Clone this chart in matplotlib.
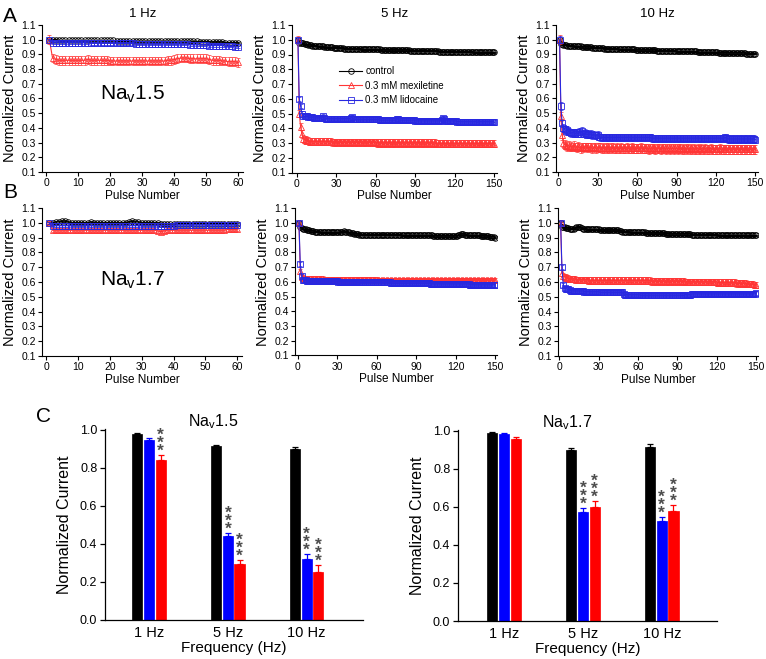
import numpy as np
import matplotlib
matplotlib.use("Agg")
import matplotlib.pyplot as plt

plt.rcParams['font.family'] = ['Liberation Sans', 'DejaVu Sans']
plt.rcParams['mathtext.fontset'] = 'custom'
plt.rcParams['mathtext.rm'] = 'Liberation Sans'

# ---------------- data (normalized current x 100) ----------------
# Nav1.5, 1 Hz (60 pulses)
ctrl_15_1hz = [
    100, 100, 100, 99.5, 99.5, 99.5, 99.5, 99.5, 99.5, 99.5,
    99.5, 99.5, 99.5, 99.5, 99.5, 99.5, 99.5, 99.5, 99.5, 99.5,
    99.5, 99, 99, 99, 99, 99, 99, 99, 99, 99,
    99, 99, 99, 99, 99, 99, 99, 99, 99, 99,
    99, 99, 99, 99, 99, 99, 99, 98.5, 98.5, 98.5,
    98.5, 98.5, 98.5, 98.5, 98.5, 98, 98, 98, 98, 98]
mex_15_1hz = [
    100, 87.5, 86.5, 86, 86, 86, 86, 86, 86, 86,
    86, 86, 86.5, 86, 86, 86, 86, 86, 86, 85.5,
    85.5, 85.5, 85.5, 85.5, 85.5, 85.5, 85.5, 85.5, 85.5, 85.5,
    85.5, 85.5, 85.5, 85.5, 85.5, 85.5, 85.5, 86, 86, 86.5,
    87, 87.5, 87.5, 87.5, 87, 87, 87, 87, 87, 87,
    86.5, 86, 86, 86, 85.5, 85.5, 85, 85, 85, 84.5]
lido_15_1hz = [
    100, 98, 98, 98, 98, 98, 98, 98, 98, 98,
    98, 98, 98, 97.5, 97.5, 97.5, 97.5, 97.5, 97.5, 97.5,
    97.5, 97.5, 97.5, 97.5, 97.5, 97.5, 97.5, 97, 97, 97,
    97, 97, 97, 97, 97, 97, 97, 97, 97, 97,
    97, 97, 97, 97, 96.5, 96.5, 96.5, 96.5, 96.5, 96.5,
    96, 96, 96, 96, 96, 95.5, 95.5, 95.5, 95, 95]

# Nav1.5, 5 Hz (150 pulses)
ctrl_15_5hz = [
    100, 98, 98, 97.5, 97.5, 97, 97, 97, 96.5, 96.5,
    96.5, 96, 96, 96, 96, 95.5, 95.5, 95.5, 95.5, 95.5,
    95, 95, 95, 95, 95, 95, 95, 94.5, 94.5, 94.5,
    94.5, 94.5, 94.5, 94.5, 94.5, 94, 94, 94, 94, 94,
    94, 94, 94, 94, 94, 94, 94, 94, 93.5, 93.5,
    93.5, 93.5, 93.5, 93.5, 93.5, 93.5, 93.5, 93.5, 93.5, 93.5,
    93.5, 93.5, 93.5, 93, 93, 93, 93, 93, 93, 93,
    93, 93, 93, 93, 93, 93, 93, 93, 93, 93,
    93, 93, 93, 93, 93, 92.5, 92.5, 92.5, 92.5, 92.5,
    92.5, 92.5, 92.5, 92.5, 92.5, 92.5, 92.5, 92.5, 92.5, 92.5,
    92.5, 92.5, 92.5, 92.5, 92.5, 92.5, 92.5, 92, 92, 92,
    92, 92, 92, 92, 92, 92, 92, 92, 92, 92,
    92, 92, 92, 92, 92, 92, 92, 92, 92, 92,
    92, 92, 92, 91.5, 91.5, 91.5, 91.5, 91.5, 91.5, 91.5,
    91.5, 91.5, 91.5, 91.5, 91.5, 91.5, 91.5, 91.5, 91.5, 91.5]
mex_15_5hz = [
    100, 50, 41, 36, 33, 32, 32, 31.5, 31.5, 31,
    31, 31, 31, 31, 31, 31, 31, 31, 31, 31,
    31, 31, 31, 31, 31, 31, 30.5, 30.5, 30.5, 30.5,
    30.5, 30.5, 30.5, 30.5, 30.5, 30.5, 30.5, 30.5, 30.5, 30.5,
    30.5, 30.5, 30.5, 30.5, 30.5, 30.5, 30.5, 30.5, 30.5, 30.5,
    30.5, 30.5, 30.5, 30.5, 30.5, 30.5, 30.5, 30.5, 30.5, 30.5,
    30, 30, 30, 30, 30, 30, 30, 30, 30, 30,
    30, 30, 30, 30, 30, 30, 30, 30, 30, 30,
    30, 30, 30, 30, 30, 30, 30, 30, 30, 30,
    30, 30, 30, 30, 30, 30, 30, 30, 30, 30,
    30, 30, 30, 30, 30, 29.5, 29.5, 29.5, 29.5, 29.5,
    29.5, 29.5, 29.5, 29.5, 29.5, 29.5, 29.5, 29.5, 29.5, 29.5,
    29.5, 29.5, 29.5, 29.5, 29.5, 29.5, 29.5, 29.5, 29.5, 29.5,
    29.5, 29.5, 29.5, 29.5, 29.5, 29.5, 29.5, 29.5, 29.5, 29.5,
    29.5, 29.5, 29.5, 29.5, 29.5, 29.5, 29.5, 29.5, 29.5, 29.5]
lido_15_5hz = [
    100, 60, 55, 50, 48.5, 48, 48, 48, 47.5, 47.5,
    47.5, 47.5, 47, 47, 47, 47, 47, 47, 47, 48,
    47, 46.5, 46.5, 46.5, 46.5, 46.5, 46.5, 46.5, 46.5, 46.5,
    46.5, 46.5, 46.5, 46.5, 46.5, 46.5, 46.5, 46.5, 46.5, 46.5,
    47, 47.5, 46.5, 46, 46, 46, 46, 46, 46, 46,
    46, 46, 46, 46, 46, 46, 46, 46, 46, 46,
    46, 46, 45.5, 45.5, 45.5, 45.5, 45.5, 45.5, 45.5, 45.5,
    45.5, 45.5, 45.5, 45.5, 45.5, 46, 46.5, 45.5, 45.5, 45.5,
    45.5, 45.5, 45.5, 45.5, 45.5, 45.5, 45.5, 45.5, 45.5, 45,
    45, 45, 45, 45, 45, 45, 45, 45, 45, 45,
    45, 45, 45, 45, 45, 45, 45, 45, 45, 45.5,
    47, 46, 45, 45, 45, 45, 45, 45, 45, 45,
    45, 44.5, 44.5, 44.5, 44.5, 44.5, 44.5, 44.5, 44.5, 44.5,
    44.5, 44.5, 44.5, 44.5, 44.5, 44.5, 44, 44.5, 44.5, 44.5,
    44.5, 44.5, 44.5, 44.5, 44.5, 44.5, 44.5, 44.5, 44.5, 44]

# Nav1.5, 10 Hz
ctrl_15_10hz = [
    100, 97, 97, 96.5, 96.5, 96.5, 96, 96, 96, 96,
    96, 95.5, 95.5, 95.5, 95.5, 95.5, 95.5, 95, 95, 95,
    95, 95, 95, 95, 95, 94.5, 94.5, 94.5, 94.5, 94.5,
    94.5, 94.5, 94.5, 94.5, 94, 94, 94, 94, 94, 94,
    94, 94, 94, 94, 94, 93.5, 93.5, 93.5, 93.5, 93.5,
    93.5, 93.5, 93.5, 93.5, 93.5, 93.5, 93.5, 93.5, 93, 93,
    93, 93, 93, 93, 93, 93, 93, 93, 93, 93,
    93, 93, 93, 93, 92.5, 92.5, 92.5, 92.5, 92.5, 92.5,
    92.5, 92.5, 92.5, 92.5, 92.5, 92.5, 92.5, 92.5, 92.5, 92,
    92, 92, 92, 92, 92, 92, 92, 92, 92, 92,
    92, 92, 92, 92, 92, 91.5, 91.5, 91.5, 91.5, 91.5,
    91.5, 91.5, 91.5, 91.5, 91.5, 91.5, 91.5, 91.5, 91.5, 91.5,
    91.5, 91, 91, 91, 91, 91, 91, 91, 91, 91,
    91, 91, 91, 91, 91, 91, 91, 91, 91, 91,
    91, 91, 90.5, 90.5, 90.5, 90.5, 90.5, 90.5, 90.5, 90.5]
mex_15_10hz = [
    100, 48, 35, 30, 28.5, 28, 27.5, 28, 27, 27.5,
    27, 28, 27, 26.5, 27.5, 27, 26, 27, 26.5, 27,
    27, 26.5, 27, 26.5, 27, 26, 26.5, 27, 26, 26.5,
    26.5, 26.5, 26, 26.5, 26, 26.5, 26, 26.5, 26, 26.5,
    26, 26.5, 26, 26, 26.5, 26, 26, 26.5, 26, 26,
    26, 26.5, 26, 26, 26, 26.5, 26, 26, 26, 26,
    26, 26, 26.5, 26, 26, 26, 26, 26, 25.5, 26,
    26, 26, 26, 25.5, 26, 26, 26, 25.5, 26, 26,
    26, 25.5, 26, 26, 25.5, 26, 26, 25.5, 26, 26,
    25.5, 26, 26, 25.5, 26, 25.5, 26, 25.5, 26, 25.5,
    26, 25.5, 26, 25.5, 25.5, 26, 25.5, 25.5, 26, 25.5,
    25.5, 26, 25.5, 25.5, 25.5, 26, 25.5, 25.5, 25.5, 25.5,
    25.5, 25.5, 26, 25.5, 25.5, 25.5, 25.5, 25.5, 25.5, 25.5,
    25.5, 25.5, 25.5, 25.5, 25.5, 25.5, 25.5, 25.5, 25.5, 25.5,
    25.5, 25.5, 25.5, 25.5, 25.5, 25.5, 25.5, 25.5, 25.5, 25.5]
lido_15_10hz = [
    100, 55, 43, 40, 39, 38, 38.5, 37.5, 37, 36.5,
    37, 36.5, 36, 37, 36, 37.5, 36, 38, 36, 36.5,
    36, 35.5, 36, 35.5, 36, 35, 35.5, 35, 35, 35.5,
    34, 33.5, 33.5, 33.5, 33.5, 33.5, 33.5, 33.5, 33.5, 33.5,
    33.5, 33.5, 33.5, 33.5, 33.5, 33.5, 33.5, 33.5, 33.5, 33.5,
    33.5, 33.5, 33.5, 33.5, 33.5, 33.5, 33.5, 33.5, 33.5, 33.5,
    33.5, 33.5, 33.5, 33.5, 33.5, 33.5, 33.5, 33.5, 33.5, 33.5,
    33, 33, 33, 33, 33, 33, 33, 33, 33, 33,
    33, 33, 33, 33, 33, 33, 33, 33, 33, 33,
    33, 33, 33, 33, 33, 33, 33, 33, 33, 33,
    33, 33, 33, 33, 33, 33, 33, 33, 33, 33,
    33, 33, 33, 33, 33, 33, 33, 33, 33, 33,
    33, 33, 33, 33, 33, 33, 33.5, 33, 32.5, 32.5,
    32.5, 32.5, 32.5, 32.5, 32.5, 32.5, 32.5, 32.5, 32.5, 32.5,
    32.5, 32.5, 32.5, 32.5, 32.5, 32.5, 32.5, 32.5, 32.5, 32]

# Nav1.7, 1 Hz
ctrl_17_1hz = [
    100, 100, 100.5, 100.5, 101, 101, 100.5, 100, 100, 100,
    100, 100, 100, 100.5, 100, 100, 100, 100, 100, 100,
    100, 100, 100, 100, 100, 100.5, 101, 100.5, 100.5, 100,
    100, 100, 100, 100, 100, 99.5, 99.5, 99.5, 99.5, 99.5,
    99.5, 99.5, 99.5, 99.5, 99.5, 99.5, 99.5, 99.5, 99.5, 99.5,
    99.5, 99.5, 99.5, 99.5, 99.5, 99.5, 99.5, 99.5, 99.5, 99]
mex_17_1hz = [
    100, 95, 95, 95, 95, 95, 95, 95, 95, 95,
    95, 95, 95, 95, 95, 95, 95, 95, 95, 95,
    95, 95, 95, 95, 95, 95, 95, 95, 95, 95,
    95, 95, 95, 95, 94.5, 94, 94.5, 95, 95, 95,
    95, 95, 95, 95, 95, 95, 95, 95, 95, 95,
    95, 95, 95, 95, 95, 95, 95.5, 95.5, 95.5, 95.5]
lido_17_1hz = [
    100, 98, 98, 98, 98, 98, 98, 98, 98, 98,
    98, 98, 98, 98, 98, 98, 98, 98, 98, 98,
    98, 98, 98, 98, 98, 98, 98, 98, 98, 98,
    98, 98, 98, 98, 98, 98, 98, 98, 98, 98,
    98.5, 98.5, 98.5, 98.5, 98.5, 98.5, 98.5, 98.5, 98.5, 98.5,
    98.5, 98.5, 98.5, 98.5, 98.5, 98.5, 98.5, 98.5, 98.5, 98.5]

# Nav1.7, 5 Hz
ctrl_17_5hz = [
    100, 97, 96.5, 96, 95.5, 95.5, 95, 95, 95, 94.5,
    94.5, 94.5, 94, 94, 94, 94, 93.5, 93.5, 93.5, 93.5,
    93.5, 93.5, 93.5, 93.5, 93.5, 93.5, 93.5, 93.5, 93.5, 93.5,
    93.5, 93.5, 94, 94, 94.5, 94, 94, 93.5, 93.5, 93,
    93, 93, 92.5, 92.5, 92.5, 92.5, 92, 92, 92, 92,
    92, 92, 92, 92, 92, 92, 92, 92, 92, 92,
    92, 92, 92, 92, 92, 92, 92, 92, 92, 92,
    92, 92, 92, 92, 92, 92, 92, 92, 91.5, 91.5,
    91.5, 91.5, 91.5, 91.5, 91.5, 91.5, 91.5, 91.5, 91.5, 91.5,
    91.5, 91.5, 91.5, 91.5, 91.5, 91.5, 91.5, 91.5, 91.5, 91.5,
    91.5, 91.5, 91, 91, 91, 91, 91, 91, 91, 91,
    91, 91, 91, 91, 91, 91, 91, 91, 91, 91,
    91, 91.5, 92, 92.5, 92.5, 92.5, 92, 92, 91.5, 91.5,
    91.5, 91.5, 91.5, 91.5, 91.5, 91.5, 91.5, 91.5, 91, 91,
    91, 91, 91, 91, 91, 90.5, 90.5, 90.5, 90.5, 90]
mex_17_5hz = [
    100, 67, 63, 62.5, 62, 62, 62, 62, 62, 62,
    62, 62, 62, 62, 62, 62, 62, 62, 62, 61.5,
    61.5, 61.5, 61.5, 61.5, 61.5, 61.5, 61.5, 61.5, 61.5, 61.5,
    61.5, 61.5, 61.5, 61.5, 61.5, 61.5, 61.5, 61.5, 61.5, 61.5,
    61.5, 61.5, 61.5, 61.5, 61.5, 61.5, 61.5, 61.5, 61.5, 61.5,
    61.5, 61.5, 61.5, 61.5, 61.5, 61.5, 61.5, 61.5, 61.5, 61.5,
    61, 61, 61, 61, 61, 61, 61, 61, 61, 61,
    61, 61, 61, 61, 61, 61, 61, 61, 61, 61,
    61, 61, 61, 61, 61, 61, 61, 61, 61, 61,
    61, 61, 61, 61, 61, 61, 61, 61, 61, 61,
    61, 61, 61, 61, 61, 61, 61, 61, 61, 61,
    61, 61, 61, 61, 61, 61, 61, 61, 61, 61,
    61, 61, 61, 61, 61, 61, 61, 61, 61, 61,
    61, 61, 61, 61, 61, 61, 61, 61, 61, 61,
    61, 61, 61, 61, 61, 61, 61, 61, 61, 61]
lido_17_5hz = [
    100, 72, 64, 61.5, 61, 61, 60.5, 60.5, 60.5, 60.5,
    60.5, 60.5, 60.5, 60.5, 60.5, 60.5, 60.5, 60.5, 60.5, 60.5,
    60.5, 60.5, 60.5, 60.5, 60.5, 60.5, 60.5, 60.5, 60.5, 60.5,
    60, 60, 60, 60, 60, 60, 60, 60, 60, 60,
    60, 60, 60, 60, 60, 59.5, 59.5, 59.5, 59.5, 59.5,
    59.5, 59.5, 59.5, 59.5, 59.5, 59.5, 59.5, 59.5, 59.5, 59.5,
    59.5, 59.5, 59.5, 59.5, 59.5, 59.5, 59.5, 59.5, 59.5, 59.5,
    59, 59, 59, 59, 59, 59, 59, 59, 59, 59,
    59, 59, 59, 59, 59, 59, 59, 59, 59, 59,
    59, 59, 59, 59, 59, 59, 59, 59, 59, 59,
    58.5, 58.5, 58.5, 58.5, 58.5, 58.5, 58.5, 58.5, 58.5, 58.5,
    58.5, 58.5, 58.5, 58.5, 58.5, 58.5, 58.5, 58.5, 58.5, 58.5,
    58.5, 58.5, 58.5, 58.5, 58.5, 58.5, 58.5, 58.5, 58.5, 58.5,
    58, 58, 58, 58, 58, 58, 58, 58, 58, 58,
    58, 58, 58, 58, 58, 58, 58, 58, 58, 58]

# Nav1.7, 10 Hz
ctrl_17_10hz = [
    100, 97.5, 97, 97, 96.5, 96.5, 96.5, 96, 96, 96,
    96, 96.5, 97, 97.5, 97.5, 97, 96.5, 96, 96, 96,
    95.5, 95.5, 95.5, 95.5, 95.5, 95.5, 95.5, 95.5, 95.5, 95.5,
    95, 95, 95, 95, 95, 95, 95, 95, 95, 95,
    95, 95, 95, 95, 95, 94.5, 94.5, 94, 94, 94,
    94, 94, 94, 93.5, 93.5, 93.5, 93.5, 93.5, 93.5, 93.5,
    93.5, 93.5, 93.5, 93.5, 93.5, 93, 93, 93, 93, 93,
    93, 93, 93, 93, 93, 93, 93, 93, 93, 93,
    92.5, 92.5, 92.5, 92.5, 92.5, 92.5, 92.5, 92.5, 92.5, 92.5,
    92.5, 92.5, 92.5, 92.5, 92.5, 92.5, 92.5, 92.5, 92.5, 92.5,
    92, 92, 92, 92, 92, 92, 92, 92, 92, 92,
    92, 92, 92, 92, 92, 92, 92, 92, 92, 92,
    91.5, 91.5, 91.5, 91.5, 91.5, 91.5, 91.5, 91.5, 91.5, 91.5,
    91.5, 91.5, 91.5, 91.5, 91.5, 91.5, 91.5, 91.5, 91.5, 91.5,
    91.5, 91.5, 91.5, 91.5, 91.5, 91.5, 91.5, 91.5, 91.5, 91.5]
mex_17_10hz = [
    100, 66, 64, 63.5, 63, 62.5, 62.5, 62, 62, 62,
    62, 62, 61.5, 61.5, 61.5, 61.5, 61.5, 61.5, 61.5, 61.5,
    61.5, 61.5, 61, 61, 61, 61, 61, 61, 61, 61,
    61, 61, 61, 61, 61, 61, 61, 61, 61, 61,
    61, 61, 61, 61, 61, 61, 61, 61, 61, 61,
    61, 61, 61, 61, 61, 61, 61, 61, 61, 61,
    61, 61, 61, 61, 61, 61, 61, 61, 61, 60.5,
    60.5, 60.5, 60.5, 60.5, 60.5, 60.5, 60.5, 60.5, 60.5, 60.5,
    60.5, 60.5, 60.5, 60.5, 60.5, 60.5, 60.5, 60.5, 60.5, 60.5,
    60.5, 60.5, 60.5, 60.5, 60.5, 60, 60, 60, 60, 60,
    60, 60, 60, 60, 60, 60, 60, 60, 60, 60,
    60, 60, 60, 60, 60, 60, 60, 60, 60, 60,
    59.5, 59.5, 59.5, 59.5, 59.5, 59.5, 59.5, 59.5, 59.5, 59.5,
    59.5, 59.5, 59.5, 59.5, 59, 59, 59, 59, 59, 59,
    59, 59, 58.5, 58.5, 58.5, 58.5, 58.5, 58.5, 58, 58]
lido_17_10hz = [
    100, 70, 58, 56, 55.5, 55, 55, 54.5, 54, 54,
    54, 54, 54, 54, 54, 54, 54, 54, 53.5, 53.5,
    53.5, 53.5, 53.5, 53.5, 53.5, 53.5, 53.5, 53.5, 53.5, 53.5,
    53, 53, 53, 53, 53, 53, 53, 53, 53, 53,
    53, 53, 53, 53, 53, 53, 53, 53, 52, 51.5,
    51.5, 51.5, 51.5, 51.5, 51.5, 51.5, 51.5, 51.5, 51.5, 51.5,
    51.5, 51, 51, 51, 51, 51, 51, 51, 51, 51,
    51, 51, 51, 51, 51, 51, 51, 51, 51, 51,
    51, 51, 51, 51, 51, 51, 51, 51, 51, 51,
    51, 51, 51, 51, 51, 51.5, 51.5, 51.5, 51.5, 51.5,
    52, 52, 52, 52, 52, 52, 52, 52, 52, 52,
    52, 52, 52, 52, 52, 52, 52, 52, 52, 52,
    52, 52, 52, 52, 52, 52, 52, 52, 52, 52,
    52, 52, 52, 52, 52, 52, 52, 52, 52, 52,
    52, 52, 52, 52, 52, 52, 52, 52, 52, 52.5]

# SEM per trace (control, mexiletine, lidocaine)
sem_15_1hz = [0.004, 0.03, 0.008]
sem_15_5hz = [0.004, 0.025, 0.015]
sem_15_10hz = [0.004, 0.03, 0.025]
sem_17_1hz = [0.006, 0.012, 0.008]
sem_17_5hz = [0.005, 0.018, 0.015]
sem_17_10hz = [0.005, 0.022, 0.015]

# Panel C summary
freqs = ["1 Hz", "5 Hz", "10 Hz"]
bar_15_ctrl = [0.981, 0.913, 0.902]
bar_15_lido = [0.946, 0.444, 0.320]
bar_15_mex = [0.841, 0.294, 0.252]
err_15_ctrl = [0.004, 0.010, 0.010]
err_15_lido = [0.014, 0.014, 0.028]
err_15_mex = [0.028, 0.024, 0.038]
bar_17_ctrl = [0.988, 0.902, 0.914]
bar_17_lido = [0.984, 0.576, 0.524]
bar_17_mex = [0.960, 0.599, 0.579]
err_17_ctrl = [0.009, 0.010, 0.016]
err_17_lido = [0.007, 0.017, 0.022]
err_17_mex = [0.008, 0.030, 0.033]
# significance marks: (freq index, series) pairs
stars_15 = [(0, "mex"), (1, "lido"), (1, "mex"), (2, "lido"), (2, "mex")]
stars_17 = [(1, "lido"), (1, "mex"), (2, "lido"), (2, "mex")]

labels = ["control", "0.3 mM mexiletine", "0.3 mM lidocaine"]
c_black = "black"
c_red = "#ff3535"
c_blue = "#2828e0"

fig = plt.figure(figsize=(7.66, 6.59), dpi=100)
W, H = 766.0, 659.0


def add_axes_px(left, right, top, bottom):
    return fig.add_axes([left / W, 1 - bottom / H, (right - left) / W, (bottom - top) / H])


def trace_panel(ax, ctrl, mex, lido, sem, xticks, xlim):
    styles = [(ctrl, c_black, "o"), (mex, c_red, "^"), (lido, c_blue, "s")]
    for (vals, col, mk), e, lab in zip(styles, sem, labels):
        y = np.array(vals) / 100.0
        x = np.arange(1, len(y) + 1)
        ax.errorbar(x, y, yerr=e, fmt="none", ecolor=col, elinewidth=0.5,
                    capsize=1.3, capthick=0.5)
        ax.plot(x, y, color=col, lw=0.8, marker=mk, ms=4, mfc="none",
                mec=col, mew=0.6, label=lab)
    ax.set_xlim(*xlim)
    ax.set_ylim(0.1, 1.1)
    ax.set_xticks(xticks)
    ax.set_yticks(np.arange(0.1, 1.15, 0.1))
    ax.yaxis.set_major_formatter(matplotlib.ticker.FormatStrFormatter("%.1f"))
    for s in ["top", "right"]:
        ax.spines[s].set_visible(False)
    for s in ["left", "bottom"]:
        ax.spines[s].set_linewidth(0.8)
    ax.tick_params(labelsize=7.5, length=3, width=0.8, pad=1.5)
    ax.set_xlabel("Pulse Number", fontsize=8.5, labelpad=1)
    ax.set_ylabel("Normalized Current", fontsize=10.5, labelpad=3)


# ---------------- A row ----------------
axA1 = add_axes_px(42, 243, 25, 172)
trace_panel(axA1, ctrl_15_1hz, mex_15_1hz, lido_15_1hz, sem_15_1hz,
            range(0, 61, 10), (-1.3, 61.5))
axA2 = add_axes_px(292, 497, 25, 172.5)
trace_panel(axA2, ctrl_15_5hz, mex_15_5hz, lido_15_5hz, sem_15_5hz,
            range(0, 151, 30), (-3.5, 152))
axA3 = add_axes_px(556, 758, 25, 172)
trace_panel(axA3, ctrl_15_10hz, mex_15_10hz, lido_15_10hz, sem_15_10hz,
            range(0, 151, 30), (-1.7, 152))
for ax, t in zip([axA1, axA2, axA3], ["1 Hz", "5 Hz", "10 Hz"]):
    ax.set_title(t, fontsize=9.5, pad=6)
axA1.text(27, 0.63, "Na$_\\mathrm{v}$1.5", fontsize=15, ha="center", va="center")
axA2.legend(loc="upper left", bbox_to_anchor=(0.23, 0.72), frameon=False,
            fontsize=7, handlelength=2.4, handletextpad=0.3, labelspacing=0.45,
            borderpad=0, borderaxespad=0)

# ---------------- B row ----------------
axB1 = add_axes_px(42, 242, 208, 356)
trace_panel(axB1, ctrl_17_1hz, mex_17_1hz, lido_17_1hz, sem_17_1hz,
            range(0, 61, 10), (-1.3, 61.5))
axB2 = add_axes_px(295, 497, 208, 355.5)
trace_panel(axB2, ctrl_17_5hz, mex_17_5hz, lido_17_5hz, sem_17_5hz,
            range(0, 151, 30), (-2, 151.5))
axB3 = add_axes_px(558, 758, 208, 356)
trace_panel(axB3, ctrl_17_10hz, mex_17_10hz, lido_17_10hz, sem_17_10hz,
            range(0, 151, 30), (-1, 151.5))
axB1.text(27, 0.615, "Na$_\\mathrm{v}$1.7", fontsize=15, ha="center", va="center")


# ---------------- C row ----------------
def bar_panel(ax, ctrl, lido, mex, ectrl, elido, emex, stars, title, xlim):
    x = np.arange(len(freqs))
    w, off = 0.128, 0.148
    series = {"ctrl": (ctrl, ectrl, "black", -off),
              "lido": (lido, elido, "#0000ff", 0.0),
              "mex": (mex, emex, "#ff0000", off)}
    for key in ["ctrl", "lido", "mex"]:
        v, e, col, dx = series[key]
        ax.bar(x + dx, v, width=w, color=col, edgecolor=col, lw=0.5, zorder=2)
        ax.errorbar(x + dx, v, yerr=[np.zeros(len(e)), e], fmt="none", ecolor=col,
                    elinewidth=0.9, capsize=2.5, capthick=0.9, zorder=3)
    for i, key in stars:
        v, e, col, dx = series[key]
        ax.text(x[i] + dx, v[i] + e[i] - 0.02, "*\n*\n*", ha="center",
                va="bottom", fontsize=12.5, linespacing=0.42, color="#4d4d4d",
                fontweight="bold")
    ax.set_xlim(*xlim)
    ax.set_ylim(0, 1.005)
    ax.set_xticks(x)
    ax.set_xticklabels(freqs)
    ax.set_yticks(np.arange(0, 1.01, 0.2))
    ax.yaxis.set_major_formatter(matplotlib.ticker.FormatStrFormatter("%.1f"))
    for s in ["top", "right"]:
        ax.spines[s].set_visible(False)
    for s in ["left", "bottom"]:
        ax.spines[s].set_linewidth(0.9)
    ax.tick_params(axis="y", labelsize=9, length=3.5, width=0.9, pad=2)
    ax.tick_params(axis="x", labelsize=10.5, length=0, pad=4)
    ax.set_xlabel("Frequency (Hz)", fontsize=11, labelpad=1)
    ax.set_ylabel("Normalized Current", fontsize=11.5, labelpad=6)
    ax.text(0.42, 1.04, title, transform=ax.transAxes, ha="center", va="center",
            fontsize=11.5)


axC1 = add_axes_px(105, 363, 429, 620)
bar_panel(axC1, bar_15_ctrl, bar_15_lido, bar_15_mex, err_15_ctrl, err_15_lido,
          err_15_mex, stars_15, "Na$_\\mathrm{v}$1.5", (-0.558, 2.714))
axC2 = add_axes_px(458, 717, 430, 621)
bar_panel(axC2, bar_17_ctrl, bar_17_lido, bar_17_mex, err_17_ctrl, err_17_lido,
          err_17_mex, stars_17, "Na$_\\mathrm{v}$1.7", (-0.583, 2.70))

# panel letters
fig.text(3 / W, 1 - 16 / H, "A", fontsize=15, va="center", ha="left")
fig.text(3 / W, 1 - 193 / H, "B", fontsize=15, va="center", ha="left")
fig.text(36 / W, 1 - 416 / H, "C", fontsize=15, va="center", ha="left")

fig.savefig("out.png", dpi=100)
